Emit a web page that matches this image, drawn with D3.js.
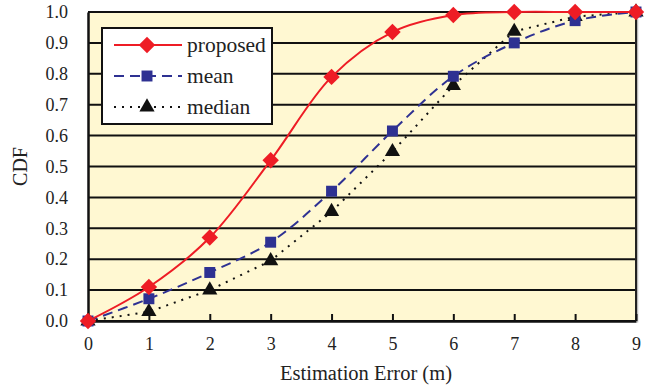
<!DOCTYPE html>
<html>
<head>
<meta charset="utf-8">
<script src="https://cdn.jsdelivr.net/npm/d3@7"></script>
<style>
  body { margin: 0; background: #fff; }
  svg { display: block; font-family: "Liberation Serif", "Times New Roman", serif; }
</style>
</head>
<body>
<div id="chart"></div>
<script>
const xValues = [0, 1, 2, 3, 4, 5, 6, 7, 8, 9];
const proposed = [0, 0.11, 0.27, 0.52, 0.79, 0.935, 0.99, 1.0, 1.0, 1.0];
const mean = [0, 0.072, 0.157, 0.255, 0.42, 0.615, 0.792, 0.90, 0.972, 1.0];
const median = [0, 0.03, 0.10, 0.195, 0.354, 0.548, 0.762, 0.937, 0.985, 1.0];
const yTicks = [0, 0.1, 0.2, 0.3, 0.4, 0.5, 0.6, 0.7, 0.8, 0.9, 1.0];

const width = 653;
const height = 391;
const margin = { top: 12, right: 17, bottom: 70, left: 88 };

const svg = d3.select('#chart')
  .append('svg')
  .attr('width', width)
  .attr('height', height);

const xScale = d3.scaleLinear().domain([0, 9]).range([margin.left, width - margin.right]);
const yScale = d3.scaleLinear().domain([0, 1]).range([height - margin.bottom, margin.top]);

// plot background
svg.append('rect')
  .attr('x', margin.left)
  .attr('y', margin.top)
  .attr('width', xScale(9) - xScale(0))
  .attr('height', yScale(0) - yScale(1))
  .attr('fill', '#fff8d2');

// horizontal gridlines
svg.append('g')
  .selectAll('line')
  .data(yTicks)
  .join('line')
  .attr('x1', xScale(0))
  .attr('x2', xScale(9))
  .attr('y1', d => yScale(d))
  .attr('y2', d => yScale(d))
  .attr('stroke', '#111')
  .attr('stroke-width', 2);

// right border with a little grey shadow
svg.append('line')
  .attr('x1', xScale(9) + 1.5).attr('x2', xScale(9) + 1.5)
  .attr('y1', yScale(1)).attr('y2', yScale(0) + 1.5)
  .attr('stroke', '#bbb').attr('stroke-width', 1.5);
svg.append('line')
  .attr('x1', xScale(9)).attr('x2', xScale(9))
  .attr('y1', yScale(1)).attr('y2', yScale(0))
  .attr('stroke', '#222').attr('stroke-width', 2);

// axes
const xAxis = d3.axisBottom(xScale).tickValues(xValues).tickSizeInner(-7).tickSizeOuter(0).tickPadding(13);
const yAxis = d3.axisLeft(yScale).tickValues(yTicks).tickSizeInner(0).tickSizeOuter(0).tickPadding(20)
  .tickFormat(d3.format('.1f'));

const gx = svg.append('g')
  .attr('transform', `translate(0, ${yScale(0)})`)
  .call(xAxis);
const gy = svg.append('g')
  .attr('transform', `translate(${xScale(0)}, 0)`)
  .call(yAxis);

[gx, gy].forEach(g => {
  g.select('.domain').attr('stroke', '#111').attr('stroke-width', 2.5);
  g.selectAll('.tick line').attr('stroke', '#111').attr('stroke-width', 2);
  g.selectAll('.tick text')
    .attr('fill', '#222')
    .style('font-family', '"Liberation Serif", "Times New Roman", serif')
    .style('font-size', '18px');
});
gx.selectAll('.tick text').attr('dy', '0.9em');

// axis titles
svg.append('text')
  .attr('x', (xScale(0) + xScale(9)) / 2 + 4)
  .attr('y', 380)
  .attr('text-anchor', 'middle')
  .attr('fill', '#222')
  .style('font-size', '20.5px')
  .text('Estimation Error (m)');

svg.append('text')
  .attr('transform', `translate(27, ${(yScale(0) + yScale(1)) / 2}) rotate(-90)`)
  .attr('text-anchor', 'middle')
  .attr('fill', '#222')
  .style('font-size', '20px')
  .text('CDF');

// diamond = square turned 45 degrees
const series = [
  { name: 'proposed', values: proposed, color: '#ee1c25', dash: null, shape: d3.symbolSquare, size: 135, rot: 45, curve: d3.curveCatmullRom.alpha(0.5) },
  { name: 'mean', values: mean, color: '#2e3192', dash: '10,6', shape: d3.symbolSquare, size: 120, rot: 0, curve: d3.curveCatmullRom.alpha(0.5) },
  { name: 'median', values: median, color: '#111', dash: '2,6', shape: d3.symbolTriangle, size: 100, rot: 0, curve: d3.curveLinear }
];

// draw in reverse so proposed sits on top
series.slice().reverse().forEach(s => {
  const line = d3.line()
    .x((d, i) => xScale(xValues[i]))
    .y(d => yScale(d))
    .curve(s.curve);
  svg.append('path')
    .datum(s.values)
    .attr('d', line)
    .attr('fill', 'none')
    .attr('stroke', s.color)
    .attr('stroke-width', 2)
    .attr('stroke-dasharray', s.dash);
});

series.slice().reverse().forEach(s => {
  svg.append('g')
    .selectAll('path')
    .data(s.values)
    .join('path')
    .attr('transform', (d, i) => `translate(${xScale(xValues[i])}, ${yScale(d)}) rotate(${s.rot})`)
    .attr('d', d3.symbol().type(s.shape).size(s.size))
    .attr('fill', s.color);
});

// legend
const legend = svg.append('g').attr('transform', 'translate(102, 28)');
legend.append('rect')
  .attr('width', 170)
  .attr('height', 96)
  .attr('fill', '#fff')
  .attr('stroke', '#111')
  .attr('stroke-width', 2);

series.forEach((s, i) => {
  const y = 17 + i * 31;
  legend.append('line')
    .attr('x1', 12).attr('x2', 80)
    .attr('y1', y).attr('y2', y)
    .attr('stroke', s.color)
    .attr('stroke-width', 2)
    .attr('stroke-dasharray', s.dash);
  legend.append('path')
    .attr('transform', `translate(45, ${y}) rotate(${s.rot})`)
    .attr('d', d3.symbol().type(s.shape).size(s.size))
    .attr('fill', s.color);
  legend.append('text')
    .attr('x', 85)
    .attr('y', y)
    .attr('dy', '0.33em')
    .attr('fill', '#222')
    .style('font-size', '21.5px')
    .text(s.name);
});
</script>
</body>
</html>
